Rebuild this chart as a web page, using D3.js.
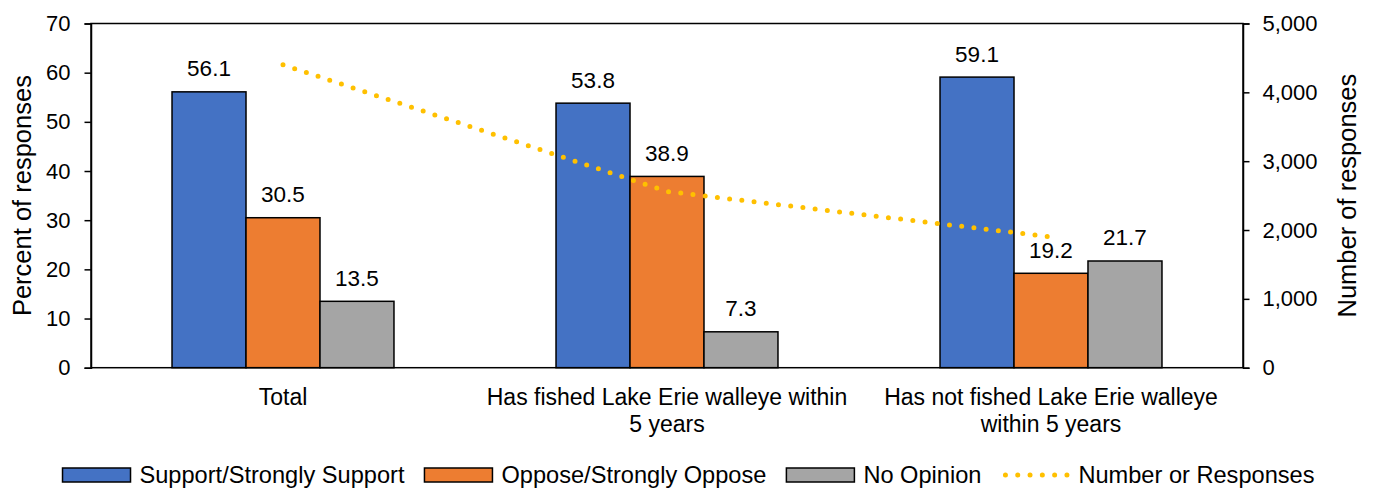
<!DOCTYPE html>
<html>
<head>
<meta charset="utf-8">
<script src="https://cdn.jsdelivr.net/npm/d3@7"></script>
<style>
  body { margin: 0; background: #fff; }
  svg text { font-family: "Liberation Sans", Arial, sans-serif; fill: #000; }
</style>
</head>
<body>
<script>
// chart data
var categories = ["Total", "Has fished Lake Erie walleye within 5 years", "Has not fished Lake Erie walleye within 5 years"];
var seriesNames = ["Support/Strongly Support", "Oppose/Strongly Oppose", "No Opinion"];
var support = [56.1, 53.8, 59.1];
var oppose = [30.5, 38.9, 19.2];
var noOpinion = [13.5, 7.3, 21.7];
var responses = [4400, 2560, 1900];
var lineName = "Number or Responses";
var leftTicks = [0, 10, 20, 30, 40, 50, 60, 70];
var rightTicks = [0, 1000, 2000, 3000, 4000, 5000];

var colors = ["#4472C4", "#ED7D31", "#A5A5A5"];
var lineColor = "#FFC000";

var W = 1377, H = 489;
var plotLeft = 91, plotRight = 1243, plotTop = 23.5, plotBottom = 367.7;

var svg = d3.select("body").append("svg")
    .attr("width", W)
    .attr("height", H);

var x = d3.scaleBand()
    .domain(categories)
    .range([plotLeft, plotRight])
    .paddingInner(0.422)
    .paddingOuter(0.211);

var xs = d3.scaleBand()
    .domain(seriesNames)
    .range([0, x.bandwidth()]);

var y = d3.scaleLinear().domain([0, 70]).range([plotBottom, plotTop]);
var y2 = d3.scaleLinear().domain([0, 5000]).range([plotBottom, plotTop]);

var rows = categories.map(function(c, i) {
    return { cat: c, values: [support[i], oppose[i], noOpinion[i]] };
});

// bars
var groups = svg.selectAll(".grp")
    .data(rows)
    .enter().append("g")
    .attr("class", "grp")
    .attr("transform", function(d) { return "translate(" + x(d.cat) + ",0)"; });

groups.selectAll("rect")
    .data(function(d) { return d.values.map(function(v, j) { return { name: seriesNames[j], v: v, j: j }; }); })
    .enter().append("rect")
    .attr("x", function(d) { return xs(d.name); })
    .attr("y", function(d) { return y(d.v); })
    .attr("width", xs.bandwidth())
    .attr("height", function(d) { return y(0) - y(d.v); })
    .attr("fill", function(d) { return colors[d.j]; })
    .attr("stroke", "#000")
    .attr("stroke-width", 1.5);

groups.selectAll(".lbl")
    .data(function(d) { return d.values.map(function(v, j) { return { name: seriesNames[j], v: v }; }); })
    .enter().append("text")
    .attr("class", "lbl")
    .attr("x", function(d) { return xs(d.name) + xs.bandwidth() / 2; })
    .attr("y", function(d) { return y(d.v) - 15.5; })
    .attr("text-anchor", "middle")
    .style("font-size", "22.5px")
    .text(function(d) { return d.v.toFixed(1); });

// line on secondary axis
var line = d3.line()
    .x(function(d, i) { return x(categories[i]) + x.bandwidth() / 2; })
    .y(function(d) { return y2(d); });

svg.append("path")
    .datum(responses)
    .attr("d", line)
    .attr("fill", "none")
    .attr("stroke", lineColor)
    .attr("stroke-width", 5)
    .attr("stroke-linecap", "round")
    .attr("stroke-dasharray", "0 12.3");

// plot border
svg.append("rect")
    .attr("x", plotLeft).attr("y", plotTop)
    .attr("width", plotRight - plotLeft).attr("height", plotBottom - plotTop)
    .attr("fill", "none")
    .attr("stroke", "#000")
    .attr("stroke-width", 1.5);

// axes
var yAxis = d3.axisLeft(y).tickValues(leftTicks).tickSize(6.5).tickPadding(14);
var gy = svg.append("g").attr("transform", "translate(" + plotLeft + ",0)").call(yAxis);

var yAxis2 = d3.axisRight(y2).tickValues(rightTicks).tickSize(6.5).tickPadding(13)
    .tickFormat(d3.format(","));
var gy2 = svg.append("g").attr("transform", "translate(" + plotRight + ",0)").call(yAxis2);

[gy, gy2].forEach(function(g) {
    g.attr("font-family", null).attr("font-size", null);
    g.select(".domain").attr("stroke", "#000").attr("stroke-width", 1.5);
    g.selectAll(".tick line").attr("stroke", "#000").attr("stroke-width", 1.5);
    g.selectAll(".tick text").style("font-size", "22px");
});

// category labels, wrapped
svg.selectAll(".cat")
    .data(categories)
    .enter().append("text")
    .attr("class", "cat")
    .attr("x", function(d) { return x(d) + x.bandwidth() / 2; })
    .attr("y", 405)
    .attr("text-anchor", "middle")
    .style("font-size", "23px")
    .each(function(d) {
        var el = d3.select(this);
        var words = d.split(" ");
        var lines = [], cur = [];
        var tmp = el.append("tspan");
        words.forEach(function(w) {
            cur.push(w);
            tmp.text(cur.join(" "));
            if (tmp.node().getComputedTextLength() > 370 && cur.length > 1) {
                cur.pop();
                lines.push(cur.join(" "));
                cur = [w];
            }
        });
        lines.push(cur.join(" "));
        tmp.remove();
        lines.forEach(function(t, i) {
            el.append("tspan")
                .attr("x", x(d) + x.bandwidth() / 2)
                .attr("dy", i === 0 ? 0 : 27)
                .text(t);
        });
    });

// axis titles
svg.append("text")
    .attr("transform", "translate(22," + (plotTop + plotBottom) / 2 + ") rotate(-90)")
    .attr("text-anchor", "middle")
    .attr("dy", "0.35em")
    .style("font-size", "25.5px")
    .text("Percent of responses");

svg.append("text")
    .attr("transform", "translate(1347," + (plotTop + plotBottom) / 2 + ") rotate(-90)")
    .attr("text-anchor", "middle")
    .attr("dy", "0.35em")
    .style("font-size", "25.5px")
    .text("Number of responses");

// legend
var legend = svg.append("g");
var lx = 0;
var items = seriesNames.map(function(n, i) { return { name: n, type: "bar", color: colors[i] }; });
items.push({ name: lineName, type: "line", color: lineColor });

items.forEach(function(it) {
    var g = legend.append("g").attr("transform", "translate(" + lx + ",0)");
    if (it.type === "bar") {
        g.append("rect")
            .attr("x", 0).attr("y", -7)
            .attr("width", 68).attr("height", 14)
            .attr("fill", it.color)
            .attr("stroke", "#000")
            .attr("stroke-width", 1.5);
    } else {
        g.append("line")
            .attr("x1", 4).attr("x2", 66)
            .attr("y1", 0).attr("y2", 0)
            .attr("stroke", it.color)
            .attr("stroke-width", 5)
            .attr("stroke-linecap", "round")
            .attr("stroke-dasharray", "0 12.3");
    }
    var t = g.append("text")
        .attr("x", 77)
        .attr("dy", "0.35em")
        .style("font-size", "23.6px")
        .text(it.name);
    lx += 77 + t.node().getComputedTextLength() + 20;
});
lx -= 20;
legend.attr("transform", "translate(" + (W / 2 - lx / 2) + ",475)");
</script>
</body>
</html>
